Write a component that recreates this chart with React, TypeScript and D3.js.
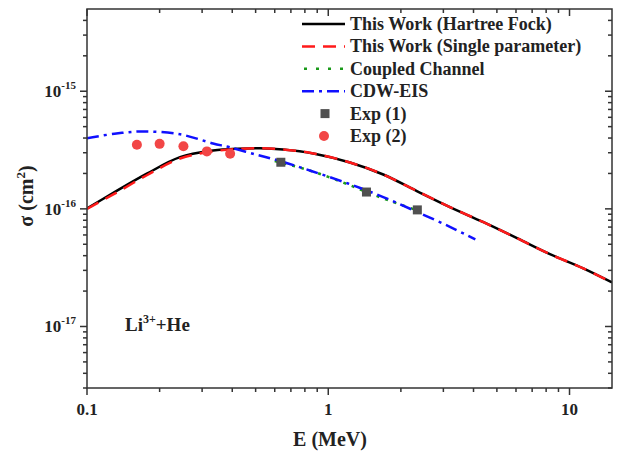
import React from 'react';
import * as d3 from 'd3';

// energies in MeV, cross sections in cm^2
const hfEnergy = [0.1, 0.128, 0.177, 0.243, 0.333, 0.42, 0.522, 0.65, 0.867, 1.23, 1.69, 2.34, 3.21, 4.4, 6.09, 8.34, 11.4, 15];
const hfSigma = [1.01e-16, 1.36e-16, 1.99e-16, 2.75e-16, 3.13e-16, 3.25e-16, 3.28e-16, 3.2e-16, 2.96e-16, 2.48e-16, 1.96e-16, 1.41e-16, 1.03e-16, 7.7e-17, 5.6e-17, 4.1e-17, 3.12e-17, 2.37e-17];

const spEnergy = [0.1, 0.128, 0.177, 0.243, 0.333, 0.42, 0.522, 0.65, 0.867, 1.23, 1.69, 2.34, 3.21, 4.4, 6.09, 8.34, 11.4, 15];
const spSigma = [1.0e-16, 1.32e-16, 1.93e-16, 2.68e-16, 3.08e-16, 3.23e-16, 3.27e-16, 3.2e-16, 2.96e-16, 2.48e-16, 1.96e-16, 1.41e-16, 1.03e-16, 7.7e-17, 5.6e-17, 4.1e-17, 3.12e-17, 2.36e-17];

const ccEnergy = [0.6, 0.8, 1.0, 1.2, 1.44, 1.8, 2.34];
const ccSigma = [2.55e-16, 2.18e-16, 1.87e-16, 1.62e-16, 1.39e-16, 1.17e-16, 9.7e-17];

const cdwEnergy = [0.1, 0.13, 0.171, 0.243, 0.333, 0.39, 0.5, 0.632, 0.85, 1.2, 1.69, 2.34, 3.21, 4.07];
const cdwSigma = [3.98e-16, 4.35e-16, 4.55e-16, 4.3e-16, 3.6e-16, 3.34e-16, 2.9e-16, 2.55e-16, 2.1e-16, 1.65e-16, 1.26e-16, 9.4e-17, 7.0e-17, 5.5e-17];

const exp1Energy = [0.636, 1.44, 2.34];
const exp1Sigma = [2.49e-16, 1.39e-16, 9.8e-17];

const exp2Energy = [0.161, 0.2, 0.251, 0.314, 0.392];
const exp2Sigma = [3.51e-16, 3.57e-16, 3.41e-16, 3.08e-16, 2.94e-16];

const xMajor = [0.1, 1, 10];
const xMajorLabels = ['0.1', '1', '10'];
const yMajor = [1e-17, 1e-16, 1e-15];
const yMajorExp = ['-17', '-16', '-15'];

const legendLabels = [
  'This Work (Hartree Fock)',
  'This Work (Single parameter)',
  'Coupled Channel',
  'CDW-EIS',
  'Exp (1)',
  'Exp (2)',
];

const W = 618;
const H = 453;
const m = { left: 87, right: 612, top: 9, bottom: 388 };
const font = '"Liberation Serif", "Times New Roman", serif';
const ink = '#222';

export default function App() {
  const x = d3.scaleLog().domain([0.1, 15]).range([m.left, m.right]);
  const y = d3.scaleLog().domain([3e-18, 5e-15]).range([m.bottom, m.top]);

  const line = (es: number[], ss: number[]) =>
    d3
      .line<number>()
      .x((_, i) => x(es[i]))
      .y((d) => y(d))
      .curve(d3.curveCatmullRom.alpha(0.5))(ss) as string;

  const xMinor: number[] = [];
  [0.1, 1, 10].forEach((d) => {
    for (let k = 2; k <= 9; k++) if (d * k <= 15) xMinor.push(d * k);
  });
  const yMinor: number[] = [];
  [1e-18, 1e-17, 1e-16, 1e-15].forEach((d) => {
    for (let k = 2; k <= 9; k++) {
      const v = d * k;
      if (v >= 3e-18 && v <= 5e-15) yMinor.push(v);
    }
  });

  const major = 7;
  const minor = 4;
  const legX0 = 302;
  const legX1 = 345;
  const legY = (i: number) => 24 + i * 22.4;

  return (
    <svg width={W} height={H} style={{ position: 'absolute', left: 0, top: 0, background: '#fff' }}
      fontFamily={font} fontWeight="bold" fill={ink}>
      <defs>
        <clipPath id="plot">
          <rect x={m.left} y={m.top} width={m.right - m.left} height={m.bottom - m.top} />
        </clipPath>
      </defs>

      {/* curves */}
      <g clipPath="url(#plot)" fill="none" strokeWidth={2.5}>
        <path d={line(hfEnergy, hfSigma)} stroke="#000" />
        <path d={line(spEnergy, spSigma)} stroke="#ff1a1a" strokeDasharray="13 8" />
        <path d={line(ccEnergy, ccSigma)} stroke="#1a9a1a" strokeDasharray="3 6" />
        <path d={line(cdwEnergy, cdwSigma)} stroke="#1010ff" strokeDasharray="12 5 3 5" />
      </g>
      {exp1Energy.map((e, i) => (
        <rect key={'s' + i} x={x(e) - 4.5} y={y(exp1Sigma[i]) - 4.5} width={9} height={9} fill="#505050" />
      ))}
      {exp2Energy.map((e, i) => (
        <circle key={'c' + i} cx={x(e)} cy={y(exp2Sigma[i])} r={5} fill="#f24646" />
      ))}

      {/* frame */}
      <rect x={m.left} y={m.top} width={m.right - m.left} height={m.bottom - m.top} fill="none" stroke="#333" strokeWidth={1.5} />

      {/* x ticks: bottom outward, top inward */}
      <g stroke="#333" strokeWidth={1.5}>
        {xMajor.map((d) => (
          <g key={'xM' + d}>
            <line x1={x(d)} x2={x(d)} y1={m.bottom} y2={m.bottom + major} />
            <line x1={x(d)} x2={x(d)} y1={m.top} y2={m.top + major} />
          </g>
        ))}
        {xMinor.map((d) => (
          <g key={'xm' + d}>
            <line x1={x(d)} x2={x(d)} y1={m.bottom} y2={m.bottom + minor} />
            <line x1={x(d)} x2={x(d)} y1={m.top} y2={m.top + minor} />
          </g>
        ))}
        {yMajor.map((d) => (
          <g key={'yM' + d}>
            <line x1={m.left - major} x2={m.left} y1={y(d)} y2={y(d)} />
            <line x1={m.right - major} x2={m.right} y1={y(d)} y2={y(d)} />
          </g>
        ))}
        {yMinor.map((d) => (
          <g key={'ym' + d}>
            <line x1={m.left - minor} x2={m.left} y1={y(d)} y2={y(d)} />
            <line x1={m.right - minor} x2={m.right} y1={y(d)} y2={y(d)} />
          </g>
        ))}
      </g>

      {/* tick labels */}
      {xMajor.map((d, i) => (
        <text key={'xl' + d} x={x(d)} y={415} textAnchor="middle" fontSize={17}>
          {xMajorLabels[i]}
        </text>
      ))}
      {yMajor.map((d, i) => (
        <text key={'yl' + d} x={76} y={y(d) + 6} textAnchor="end" fontSize={17}>
          10<tspan dy={-8} fontSize={11}>{yMajorExp[i]}</tspan>
        </text>
      ))}

      {/* axis titles */}
      <text x={330} y={446} textAnchor="middle" fontSize={20}>E (MeV)</text>
      <text transform="translate(33,196) rotate(-90)" textAnchor="middle" fontSize={20}>
        σ (cm<tspan dy={-8} fontSize={13}>2</tspan><tspan dy={8}>)</tspan>
      </text>

      {/* annotation */}
      <text x={125} y={331} fontSize={19}>
        Li<tspan dy={-8} fontSize={12}>3+</tspan><tspan dy={8}>+He</tspan>
      </text>

      {/* legend */}
      <g fill="none" strokeWidth={2.5}>
        <line x1={legX0} x2={legX1} y1={legY(0)} y2={legY(0)} stroke="#000" />
        <line x1={legX0} x2={legX1} y1={legY(1)} y2={legY(1)} stroke="#ff1a1a" strokeDasharray="13 8" />
        <line x1={legX0 + 2} x2={legX1} y1={legY(2)} y2={legY(2)} stroke="#1a9a1a" strokeDasharray="3 9" />
        <line x1={legX0} x2={legX1} y1={legY(3)} y2={legY(3)} stroke="#1010ff" strokeDasharray="12 5 3 5" />
      </g>
      <rect x={325 - 4.5} y={legY(4) - 4.5} width={9} height={9} fill="#505050" />
      <circle cx={324} cy={legY(5)} r={5} fill="#f24646" />
      {legendLabels.map((t, i) => (
        <text key={t} x={350} y={legY(i) + 6} fontSize={18}>{t}</text>
      ))}
    </svg>
  );
}
